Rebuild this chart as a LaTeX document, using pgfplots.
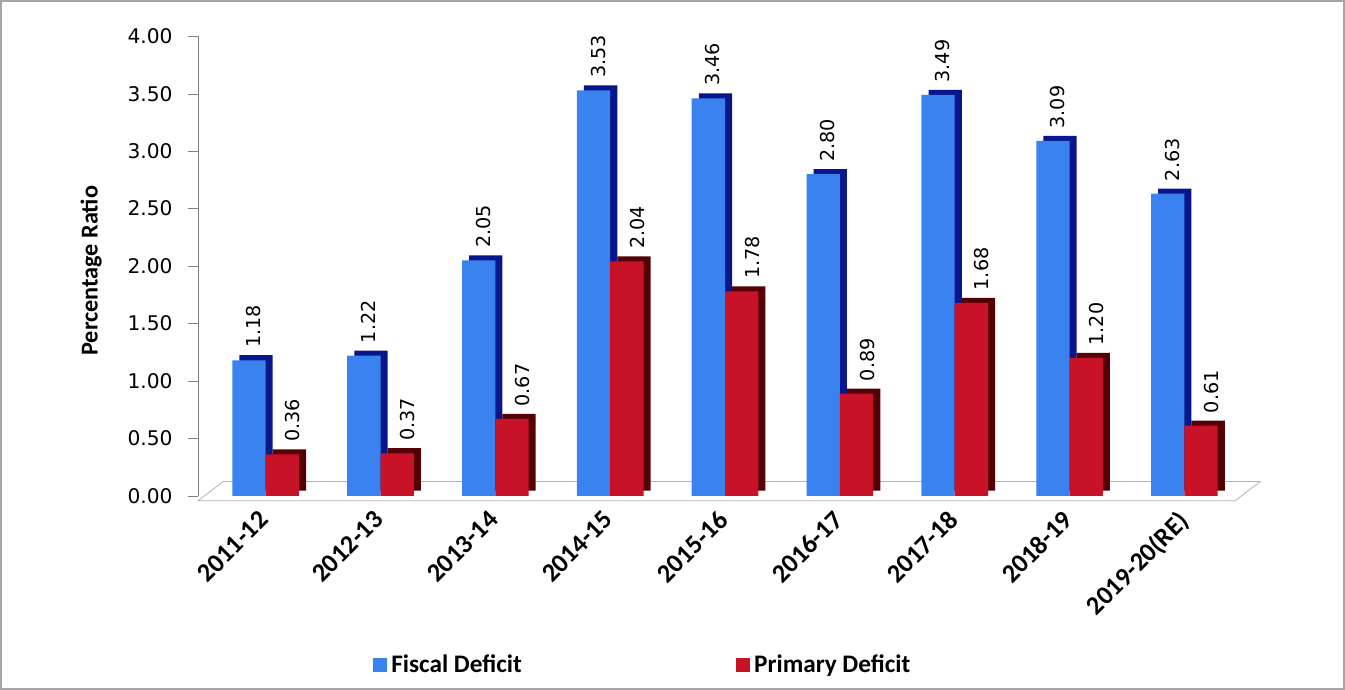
\documentclass[border=0pt]{standalone}
\usepackage{fontspec}
\setmainfont{Carlito}
\newfontfamily\dejavu{DejaVu Sans}
\usepackage{pgfplots}
\pgfplotsset{compat=1.18}
\definecolor{fblue}{RGB}{58,130,240}
\definecolor{fbluedark}{RGB}{8,22,140}
\definecolor{pred}{RGB}{200,18,40}
\definecolor{preddark}{RGB}{85,0,5}
\pgfplotstableread{
x fiscal primary
0 1.18 0.36
1 1.22 0.37
2 2.05 0.67
3 3.53 2.04
4 3.46 1.78
5 2.80 0.89
6 3.49 1.68
7 3.09 1.20
8 2.63 0.61
}\datatable
\begin{document}
\begin{tikzpicture}[x=1pt,y=1pt]
\draw[gray!70, line width=1pt] (-97.5,-95.5) rectangle (567.5,245);
\begin{axis}[
  at={(0,0)}, anchor=south west,
  scale only axis, width=513.5pt, height=227.5pt,
  xmin=-0.59, xmax=8.44, ymin=0, ymax=4,
  clip=false,
  axis y line=left, axis x line=bottom,
  x axis line style={draw=none},
  y axis line style={gray, -},
  xtick style={draw=none},
  ytick style={gray},
  tick align=outside, major tick length=5pt,
  ytick={0,0.5,1,1.5,2,2.5,3,3.5,4},
  /pgf/number format/assume math mode=true,
  yticklabel style={xshift=-4pt, font=\dejavu\fontsize{10}{10}\selectfont, /pgf/number format/.cd, fixed, zerofill, precision=2},
  xtick={0,...,8},
  xticklabels={2011-12,2012-13,2013-14,2014-15,2015-16,2016-17,2017-18,2018-19,2019-20(RE)},
  xticklabel style={xshift=-4pt, rotate=45, anchor=north east, font=\bfseries\fontsize{13}{13}\selectfont, inner sep=1pt},
  ylabel={Percentage Ratio},
  ylabel style={at={(axis description cs:-0.103,0.49)}, anchor=center, font=\bfseries\fontsize{12}{12}\selectfont},
  legend columns=2,
  legend style={at={(0.43,-0.369)}, anchor=center, draw=none, fill=none,
    font=\bfseries\fontsize{12.5}{13}\selectfont,
    /tikz/column 2/.style={column sep=104pt}},
  legend image code/.code={\fill[#1] (0pt,-3.5pt) rectangle (7pt,3.5pt);},
]
\draw[gray!60, fill=white] (axis cs:-0.59,-0.044) -- (axis cs:8.44,-0.044) -- (axis cs:8.66,0.124) -- (axis cs:-0.37,0.124) -- cycle;
\addplot[ybar, bar width=0.29, bar shift=-0.145, fill=fbluedark, draw=none, xshift=3.5pt, yshift=2.5pt, forget plot] table[x=x, y=fiscal] {\datatable};
\addplot[ybar, bar width=0.29, bar shift=-0.145, fill=fblue, draw=none, nodes near coords,
  every node near coord/.style={xshift=-6pt, rotate=90, anchor=west, inner xsep=6pt, black, font=\dejavu\fontsize{9.5}{10}\selectfont, /pgf/number format/.cd, fixed, zerofill, precision=2}] table[x=x, y=fiscal] {\datatable};
\addplot[ybar, bar width=0.29, bar shift=0.145, fill=preddark, draw=none, xshift=3.5pt, yshift=2.5pt, forget plot] table[x=x, y=primary] {\datatable};
\addplot[ybar, bar width=0.29, bar shift=0.145, fill=pred, draw=none, nodes near coords,
  every node near coord/.style={xshift=13.5pt, rotate=90, anchor=west, inner xsep=6pt, black, font=\dejavu\fontsize{9.5}{10}\selectfont, /pgf/number format/.cd, fixed, zerofill, precision=2}] table[x=x, y=primary] {\datatable};
\legend{Fiscal Deficit, Primary Deficit}
\end{axis}
\end{tikzpicture}
\end{document}
